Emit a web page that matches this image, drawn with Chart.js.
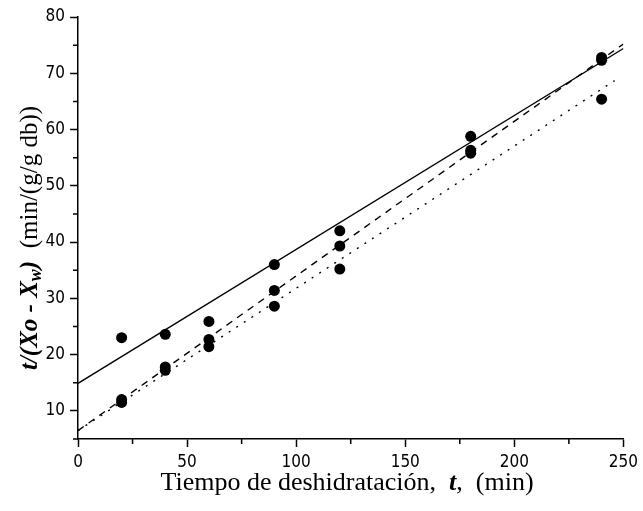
<!DOCTYPE html>
<html lang="es">
<head>
<meta charset="utf-8">
<script src="https://cdn.jsdelivr.net/npm/chart.js@4/dist/chart.umd.min.js"></script>
<style>
    body { margin: 0; background: #fff; }
    canvas { display: block; }
</style>
</head>
<body>
<canvas id="grafico" width="643" height="511"></canvas>
<script>
// Datos
const tiempos = [20, 40, 60, 90, 120, 180, 240];
const serieA = [23.0, 23.6, 25.9, 36.0, 42.0, 58.8, 72.8];
const serieB = [12.0, 17.8, 22.7, 31.4, 39.3, 56.3, 72.3];
const serieC = [11.5, 17.2, 21.4, 28.6, 35.2, 55.8, 65.4];

// Rectas ajustadas (extremos)
const rectaA_x = [0, 250];
const rectaA_y = [14.9, 74.4];
const rectaB_x = [0, 250];
const rectaB_y = [6.5, 75.2];
const rectaC_x = [0, 246];
const rectaC_y = [6.5, 68.7];

const ticksX = [0, 50, 100, 150, 200, 250];
const ticksY = [10, 20, 30, 40, 50, 60, 70, 80];

const FUENTE_TICKS = "'Liberation Sans Narrow', 'DejaVu Sans Condensed', 'Liberation Sans', sans-serif";
const FUENTE_TITULOS = "'Liberation Serif', 'DejaVu Serif', serif";

class GraficoSecado {
    constructor(canvas) {
        this.canvas = canvas;
    }

    #puntos(xs, ys) {
        return xs.map((x, i) => ({ x: x, y: ys[i] }));
    }

    #datasetPuntos(ys) {
        return {
            type: 'scatter',
            data: this.#puntos(tiempos, ys),
            pointRadius: 5.5,
            pointBackgroundColor: '#000',
            pointBorderColor: '#000',
            pointBorderWidth: 0,
            showLine: false
        };
    }

    #datasetRecta(xs, ys, guiones) {
        return {
            type: 'line',
            data: this.#puntos(xs, ys),
            borderColor: '#000',
            borderWidth: 1.4,
            borderDash: guiones,
            pointRadius: 0,
            fill: false
        };
    }

    // Dibuja un texto con tramos de distinto estilo, centrado en (0,0)
    static fn_textoMixto(ctx, tramos) {
        let total = 0;
        tramos.forEach(t => {
            ctx.font = t.font;
            t.ancho = ctx.measureText(t.texto).width;
            total += t.ancho;
        });
        let x = -total / 2;
        ctx.textAlign = 'left';
        ctx.textBaseline = 'alphabetic';
        tramos.forEach(t => {
            ctx.font = t.font;
            ctx.fillText(t.texto, x, t.dy || 0);
            x += t.ancho;
        });
    }

    static fn_pluginEjes() {
        return {
            id: 'ejes',
            afterDraw(chart) {
                const ctx = chart.ctx;
                const sx = chart.scales.x;
                const sy = chart.scales.y;
                const area = chart.chartArea;

                ctx.save();
                ctx.strokeStyle = '#000';
                ctx.lineWidth = 1.5;

                // Marcas menores
                ctx.beginPath();
                for (let v = 25; v < 250; v += 50) {
                    const px = sx.getPixelForValue(v);
                    ctx.moveTo(px, area.bottom);
                    ctx.lineTo(px, area.bottom + 5);
                }
                for (let v = 5; v < 80; v += 10) {
                    const py = sy.getPixelForValue(v);
                    ctx.moveTo(area.left, py);
                    ctx.lineTo(area.left - 5, py);
                }
                ctx.stroke();

                // Títulos de los ejes
                ctx.fillStyle = '#000';
                ctx.translate(347, 490);
                GraficoSecado.fn_textoMixto(ctx, [
                    { texto: 'Tiempo de deshidratación,  ', font: `26px ${FUENTE_TITULOS}` },
                    { texto: 't', font: `bold italic 26px ${FUENTE_TITULOS}` },
                    { texto: ',  (min)', font: `26px ${FUENTE_TITULOS}` }
                ]);
                ctx.setTransform(1, 0, 0, 1, 0, 0);

                ctx.translate(37, 238);
                ctx.rotate(-Math.PI / 2);
                GraficoSecado.fn_textoMixto(ctx, [
                    { texto: 't/(Xo - X', font: `bold italic 25px ${FUENTE_TITULOS}` },
                    { texto: 'w', font: `bold italic 18px ${FUENTE_TITULOS}`, dy: 4 },
                    { texto: ')', font: `bold italic 25px ${FUENTE_TITULOS}` },
                    { texto: '  (min/(g/g db))', font: `25px ${FUENTE_TITULOS}` }
                ]);
                ctx.restore();
            }
        };
    }

    graficar() {
        const ejeComun = {
            type: 'linear',
            border: { display: true, color: '#000', width: 1.5 },
            grid: {
                display: true,
                drawOnChartArea: false,
                drawTicks: true,
                tickLength: 8,
                tickColor: '#000',
                tickWidth: 1.5
            },
            ticks: {
                color: '#000',
                font: { family: FUENTE_TICKS, size: 17 },
                padding: 5,
                autoSkip: false,
                maxRotation: 0
            },
            title: { display: false }
        };

        const config = {
            data: {
                datasets: [
                    this.#datasetRecta(rectaA_x, rectaA_y, []),
                    this.#datasetRecta(rectaB_x, rectaB_y, [7, 6]),
                    this.#datasetRecta(rectaC_x, rectaC_y, [2, 7]),
                    this.#datasetPuntos(serieA),
                    this.#datasetPuntos(serieB),
                    this.#datasetPuntos(serieC)
                ]
            },
            options: {
                responsive: false,
                animation: false,
                layout: { padding: { left: 0, top: 17, right: 16, bottom: 0 } },
                plugins: {
                    legend: { display: false },
                    tooltip: { enabled: false }
                },
                scales: {
                    x: {
                        ...ejeComun,
                        min: 0,
                        max: 250,
                        afterBuildTicks: s => { s.ticks = ticksX.map(v => ({ value: v })); },
                        afterFit: s => { s.height = 72; }
                    },
                    y: {
                        ...ejeComun,
                        min: 5,
                        max: 80,
                        afterBuildTicks: s => { s.ticks = ticksY.map(v => ({ value: v })); },
                        afterFit: s => { s.width = 78; }
                    }
                }
            },
            plugins: [GraficoSecado.fn_pluginEjes()]
        };

        return new Chart(this.canvas, config);
    }
}

new GraficoSecado(document.getElementById('grafico')).graficar();
</script>
</body>
</html>
